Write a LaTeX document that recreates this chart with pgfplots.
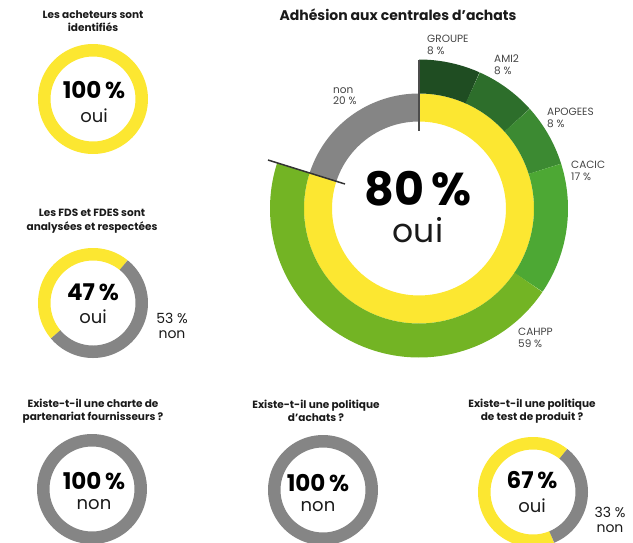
\documentclass[border=0pt]{standalone}
\usepackage{pgfplots}
\pgfplotsset{compat=1.18}
\usepackage{fontspec}
\setmainfont{Poppins}
\definecolor{cyel}{HTML}{FCE731}
\definecolor{cgry}{HTML}{858585}
\definecolor{cg1}{HTML}{1F4D22}
\definecolor{cg2}{HTML}{2D6E2B}
\definecolor{cg3}{HTML}{3C8A32}
\definecolor{cg4}{HTML}{4DA834}
\definecolor{cg5}{HTML}{73B424}
\definecolor{ctxt}{HTML}{1A1A1A}
\definecolor{clab}{HTML}{444444}
% ring segment: cx, cy, mid radius, width, angle from, angle to, colour
\newcommand{\ring}[7]{%
  \addplot[draw=#7, line width=#4pt, domain=#5:#6, samples=100, variable=\t, no marks, line cap=butt]
    ({#1+#3*cos(\t)},{#2-#3*sin(\t)});
}
\begin{document}
\begin{tikzpicture}
\begin{axis}[
  width=633pt, height=542pt, scale only axis,
  xmin=0, xmax=633, ymin=0, ymax=542, y dir=reverse,
  hide axis, clip=true]
% --- big donut: inner ring (80 % oui / 20 % non)
\ring{419}{208.5}{101}{28}{-198}{90}{cyel}
\ring{419}{208.5}{101}{28}{90}{162}{cgry}
% --- big donut: outer ring (GROUPE 8, AMI2 8, APOGEES 8, CACIC 17, CAHPP 59)
\ring{419}{208.5}{132}{34}{66}{90}{cg1}
\ring{419}{208.5}{132}{34}{42}{66}{cg2}
\ring{419}{208.5}{132}{34}{17.5}{42}{cg3}
\ring{419}{208.5}{132}{34}{-34}{17.5}{cg4}
\ring{419}{208.5}{132}{34}{-198}{-34}{cg5}
\addplot[draw=black!70, line width=1.5pt, no marks] coordinates {(419,60) (419,131)};
\addplot[draw=black!80, line width=1.5pt, no marks] coordinates {(268,160) (345,184)};
% --- small donuts
\ring{93}{99}{48.75}{12.5}{0}{360}{cyel}
\ring{93}{303}{48.75}{12.5}{51}{220}{cyel}
\ring{93}{303}{48.75}{12.5}{220}{411}{cgry}
\ring{92}{489}{48.75}{12.5}{0}{360}{cgry}
\ring{323}{490}{48.75}{12.5}{0}{360}{cgry}
\ring{533}{492}{48.75}{12.5}{51.5}{292.7}{cyel}
\ring{533}{492}{48.75}{12.5}{-67.3}{51.5}{cgry}
% --- texts
\node[font=\fontsize{14}{16}\selectfont\bfseries, text=ctxt] at (398,15) {Adhésion aux centrales d’achats};
\begin{scope}[every node/.style={anchor=base, inner sep=0pt}]
\node[font=\fontsize{46}{50}\selectfont\bfseries, text=black] at (418,205) {80\,\%};
\node[font=\fontsize{33}{40}\selectfont, text=ctxt] at (418,242) {oui};
\end{scope}
\begin{scope}[every node/.style={font=\fontsize{10.5}{11.5}\selectfont, text=clab, align=left, anchor=north west, inner sep=0pt}]
\node at (427,35) {GROUPE\\8 \%};
\node at (494,55) {AMI2\\8 \%};
\node at (547,108) {APOGEES\\8 \%};
\node at (571,161) {CACIC\\17 \%};
\node at (518,328) {CAHPP\\59 \%};
\node at (333,87) {non\\20 \%};
\end{scope}
\begin{scope}[every node/.style={font=\fontsize{10.5}{13.5}\selectfont\bfseries, text=ctxt, align=center}]
\node at (93,21) {Les acheteurs sont\\identifiés};
\node at (92,221) {Les FDS et FDES sont\\analysées et respectées};
\node at (93,411) {Existe-t-il une charte de\\partenariat fournisseurs ?};
\node at (316,411) {Existe-t-il une politique\\d’achats ?};
\node at (532,411) {Existe-t-il une politique\\de test de produit ?};
\end{scope}
\begin{scope}[every node/.style={font=\fontsize{23}{24}\selectfont\bfseries, text=black, anchor=base, inner sep=0pt}]
\node at (94,98) {100\,\%};
\node at (93,300) {47\,\%};
\node at (94,489) {100\,\%};
\node at (318,491) {100\,\%};
\node at (532,488) {67\,\%};
\end{scope}
\begin{scope}[every node/.style={font=\fontsize{18}{20}\selectfont, text=ctxt, anchor=base, inner sep=0pt}]
\node at (94,122) {oui};
\node at (93,323) {oui};
\node at (94,509) {non};
\node at (318,511) {non};
\node at (532,512) {oui};
\end{scope}
\begin{scope}[every node/.style={font=\fontsize{14}{15}\selectfont, text=ctxt, align=center}]
\node at (172,326) {53 \%\\non};
\node at (610,520) {33 \%\\non};
\end{scope}
\end{axis}
\pgfresetboundingbox
\path (current axis.south west) rectangle (current axis.north east);
\end{tikzpicture}
\end{document}
